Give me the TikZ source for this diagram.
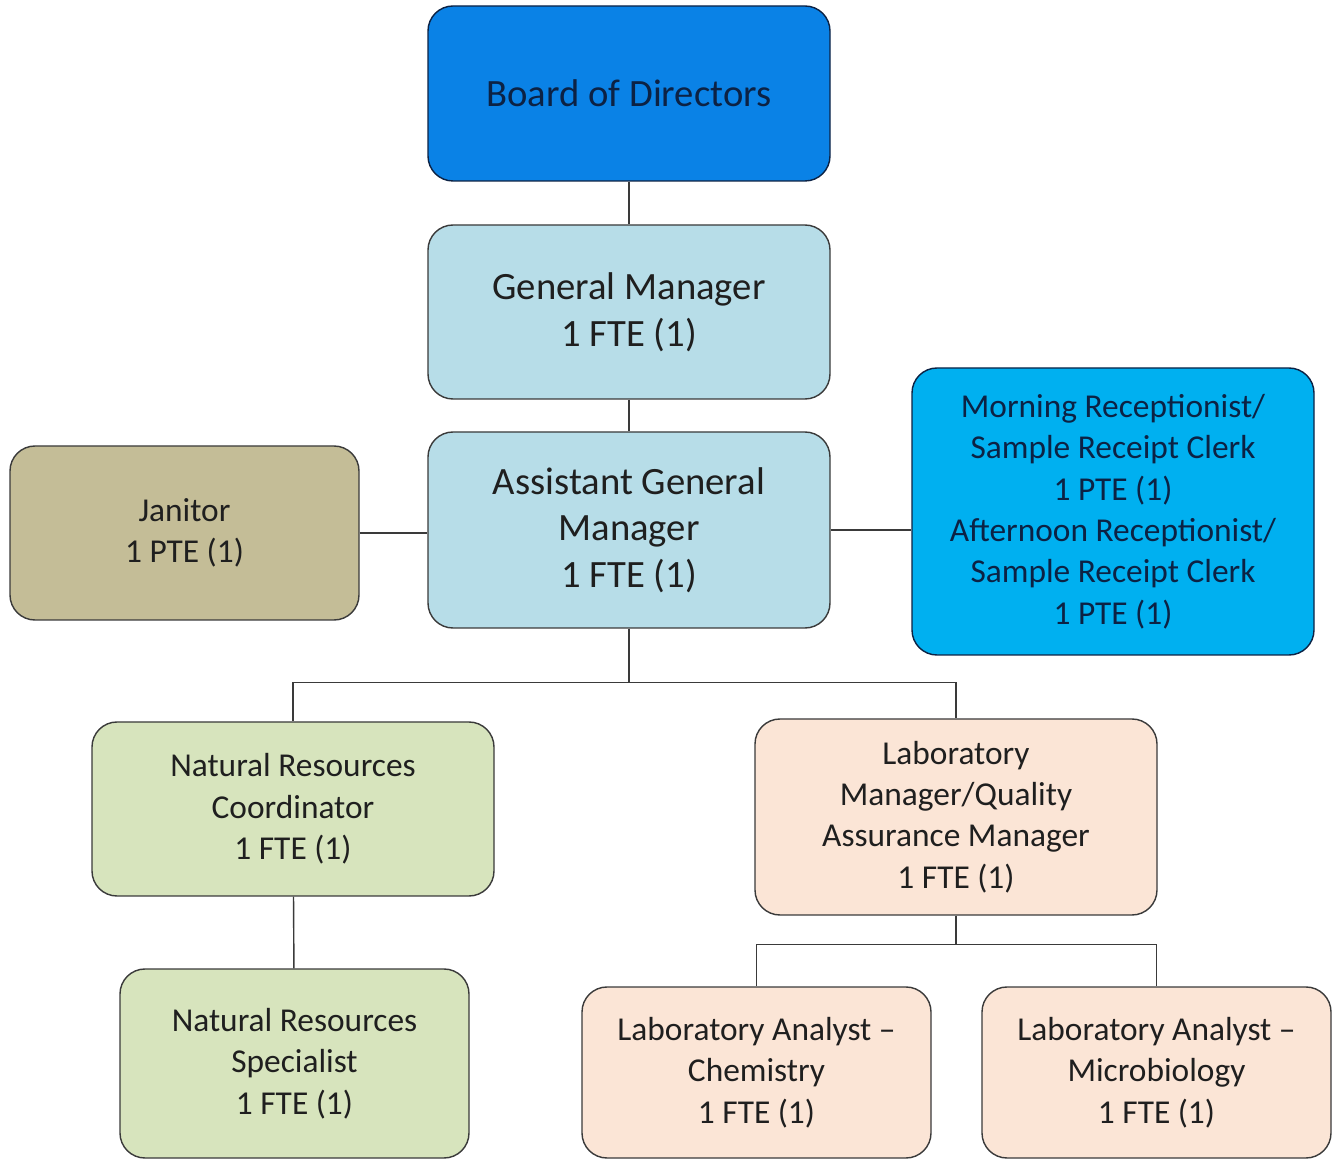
\documentclass[tikz,border=0pt]{standalone}
\usepackage{fontspec}
\setmainfont{Carlito}
\usetikzlibrary{positioning}

\definecolor{boardblue}{HTML}{0A82E6}
\definecolor{mgrblue}{HTML}{B7DDE8}
\definecolor{recblue}{HTML}{00B0F0}
\definecolor{khaki}{HTML}{C4BD97}
\definecolor{sage}{HTML}{D7E4BD}
\definecolor{peach}{HTML}{FBE5D6}
\definecolor{edge}{HTML}{3A3A3A}
\definecolor{navy}{HTML}{0C2244}

\begin{document}
\begin{tikzpicture}[
    post/.style={draw=edge, line width=0.8pt, rounded corners=0.5cm, inner sep=0pt,
        align=center, text=black!88, minimum width=8.04cm, minimum height=3.48cm,
        font=\fontsize{19}{23.5}\selectfont},
    bigpost/.style={post, font=\fontsize{22}{26.5}\selectfont},
    narrow/.style={minimum width=6.98cm},
    link/.style={draw=edge, line width=0.8pt}
]
\useasboundingbox (0,0) rectangle (26.66,-23.22);

% Top of the chart
\node[bigpost, fill=boardblue, draw=navy, text=navy, minimum height=3.5cm] (board) at (12.58, -1.87) {Board of Directors};
\node[bigpost, fill=mgrblue] (gm) at (12.58, -6.24) {General Manager\\1 FTE (1)};
\node[bigpost, fill=mgrblue, minimum height=3.92cm] (agm) at (12.58, -10.6) {Assistant General\\Manager\\1 FTE (1)};

% Side posts
\node[post, narrow, fill=khaki] (janitor) at (3.69, -10.66) {Janitor\\1 PTE (1)};
\node[post, fill=recblue, draw=navy, text=navy, minimum height=5.74cm] (recept) at (22.26, -10.23)
    {Morning Receptionist/\\Sample Receipt Clerk\\1 PTE (1)\\Afternoon Receptionist/\\Sample Receipt Clerk\\1 PTE (1)};

% Natural resources branch
\node[post, fill=sage] (nrc) at (5.86, -16.18) {Natural Resources\\Coordinator\\1 FTE (1)};
\node[post, narrow, fill=sage, minimum height=3.78cm] (nrs) at (5.89, -21.27) {Natural Resources\\Specialist\\1 FTE (1)};

% Laboratory branch
\node[post, fill=peach, minimum height=3.92cm] (labmgr) at (19.12, -16.34) {Laboratory\\Manager/Quality\\Assurance Manager\\1 FTE (1)};
\node[post, narrow, fill=peach, minimum height=3.42cm] (labchem) at (15.13, -21.45) {Laboratory Analyst --\\Chemistry\\1 FTE (1)};
\node[post, narrow, fill=peach, minimum height=3.42cm] (labmicro) at (23.13, -21.45) {Laboratory Analyst --\\Microbiology\\1 FTE (1)};

% Connectors
\draw[link] (board) -- (gm);
\draw[link] (gm) -- (agm);
\draw[link] (janitor) -- (agm.west |- janitor.east);
\draw[link] (agm) -- (recept.west |- agm.east);
\draw[link] (agm.south) -- ++(0,-1.08) -| (nrc.north);
\draw[link] (agm.south) -- ++(0,-1.08) -| (labmgr.north);
\draw[link] (nrc) -- (nrs);
\draw[link] (labmgr.south) -- ++(0,-0.58) -| (labchem.north);
\draw[link] (labmgr.south) -- ++(0,-0.58) -| (labmicro.north);

\end{tikzpicture}
\end{document}
